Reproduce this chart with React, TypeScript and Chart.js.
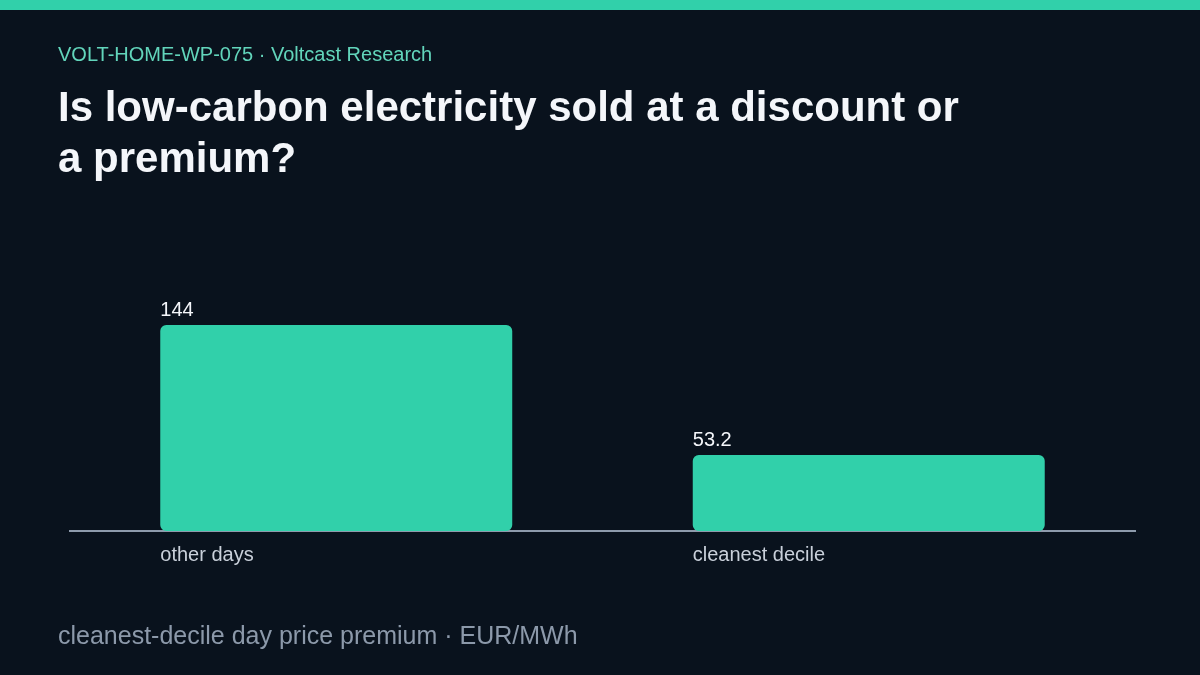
import { useEffect, useRef } from "react";
import { Chart, registerables, type ChartConfiguration, type Plugin } from "chart.js";

Chart.register(...registerables);

const categories = ["other days", "cleanest decile"];
const premium = [144, 53.2];
const valueLabels = ["144", "53.2"];

const BG = "#09121d";
const ACCENT = "#31d0aa";
const FONT_FAMILY = '"Liberation Sans", Arial, Helvetica, sans-serif';

// value labels above bars and category labels under them, both left-aligned to the bar
const barLabels: Plugin<"bar"> = {
  id: "barLabels",
  afterDatasetsDraw(chart) {
    const { ctx, chartArea } = chart;
    const meta = chart.getDatasetMeta(0);
    ctx.save();
    meta.data.forEach((el, i) => {
      const bar = el as unknown as { x: number; y: number; width: number };
      const left = bar.x - bar.width / 2;
      ctx.textAlign = "left";
      ctx.textBaseline = "alphabetic";
      ctx.fillStyle = "#f4f6fa";
      ctx.font = `20px ${FONT_FAMILY}`;
      ctx.fillText(valueLabels[i], left, bar.y - 9);
      ctx.textBaseline = "middle";
      ctx.fillStyle = "#c9d0da";
      ctx.fillText(categories[i], left, chartArea.bottom + 24);
    });
    ctx.restore();
  },
};

function PremiumChart() {
  const canvasRef = useRef<HTMLCanvasElement>(null);
  const chartRef = useRef<Chart | null>(null);

  useEffect(() => {
    if (!canvasRef.current) return;
    chartRef.current?.destroy();

    const cfg: ChartConfiguration<"bar"> = {
      type: "bar",
      data: {
        labels: categories,
        datasets: [
          {
            data: premium,
            backgroundColor: ACCENT,
            borderRadius: 6,
            borderSkipped: false,
            categoryPercentage: 1,
            barPercentage: 0.661,
          },
        ],
      },
      options: {
        responsive: true,
        maintainAspectRatio: false,
        animation: false,
        layout: { padding: { left: 70, right: 65, top: 245, bottom: 136 } },
        plugins: { legend: { display: false }, tooltip: { enabled: false } },
        scales: {
          x: {
            grid: { display: false },
            border: { display: true, color: "#8e9bac", width: 2 },
            ticks: { display: false },
          },
          y: { display: false, min: 0, max: 200 },
        },
      },
      plugins: [barLabels],
    };

    chartRef.current = new Chart(canvasRef.current, cfg);
    return () => {
      chartRef.current?.destroy();
      chartRef.current = null;
    };
  }, []);

  return (
    <div style={{ position: "absolute", inset: 0 }}>
      <canvas ref={canvasRef} />
    </div>
  );
}

export default function App() {
  return (
    <div
      style={{
        position: "fixed",
        inset: 0,
        width: 1200,
        height: 675,
        background: BG,
        fontFamily: FONT_FAMILY,
        overflow: "hidden",
      }}
    >
      <PremiumChart />
      <div style={{ position: "absolute", left: 0, top: 0, width: 1200, height: 10, background: ACCENT }} />
      <div style={{ position: "absolute", left: 58, top: 42, fontSize: 20, color: "#62d5bb", lineHeight: "24px" }}>
        VOLT-HOME-WP-075 · Voltcast Research
      </div>
      <div
        style={{
          position: "absolute",
          left: 58,
          top: 81,
          width: 930,
          fontSize: 42,
          fontWeight: 700,
          color: "#f4f6fa",
          lineHeight: "51px",
        }}
      >
        Is low-carbon electricity sold at a discount or a premium?
      </div>
      <div style={{ position: "absolute", left: 58, top: 621, fontSize: 25, color: "#8c99aa", lineHeight: "28px" }}>
        cleanest-decile day price premium · EUR/MWh
      </div>
    </div>
  );
}
